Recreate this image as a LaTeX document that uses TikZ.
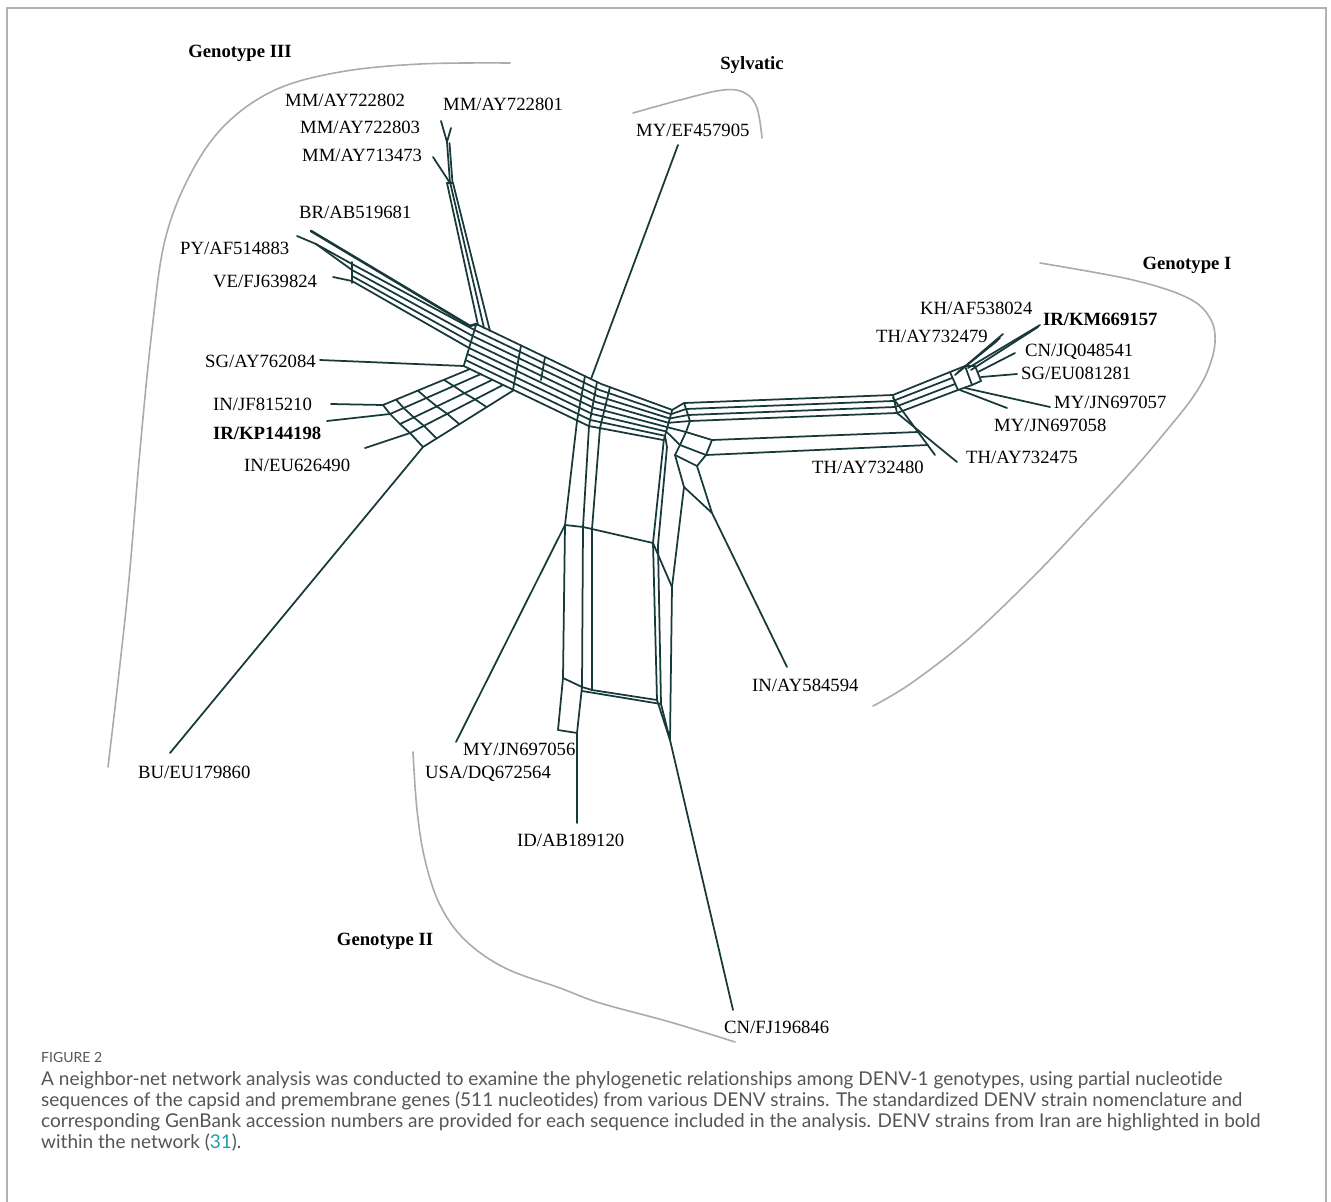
\documentclass[tikz,border=0pt]{standalone}
\usepackage{fontspec}
\setmainfont{Liberation Serif}
\newfontfamily\capfont[Ligatures={NoCommon}]{Lato}
\usetikzlibrary{calc}
\definecolor{netc}{HTML}{17393A}
\definecolor{capgray}{HTML}{555555}
\definecolor{grp}{HTML}{ABABAB}
\definecolor{refc}{HTML}{1A9FB0}
\begin{document}
\begin{tikzpicture}[x=1pt,y=-1pt,
  net/.style={draw=netc, line width=1.75pt, line join=round, line cap=round},
  grpline/.style={draw=grp, line width=1.6pt, line cap=round},
  lab/.style={anchor=west, inner sep=0pt, font=\fontsize{18.7}{20}\selectfont},
  blab/.style={anchor=west, inner sep=0pt, font=\fontsize{18.7}{20}\selectfont\bfseries},
  gt/.style={inner sep=0pt, font=\fontsize{18.7}{20}\selectfont\bfseries},
  captxt/.style={anchor=west, inner sep=0pt, text=capgray, font=\capfont\fontsize{19}{22}\selectfont},
]
\path[use as bounding box] (0,0) rectangle (1331,1202);
% frame
\draw[draw=black!30, line width=1.2pt] (7,1202) -- (7,8) -- (1326,8) -- (1326,1202);

% ---------- group outlines ----------
\draw[grpline] plot[smooth, tension=0.6] coordinates {(510,63) (420,64) (340,72) (275,90) (225,125) (190,175) (165,240) (152,330) (140,450) (127,600) (108,767)};
\draw[grpline] plot[smooth, tension=0.6] coordinates {(633,113) (680,100) (723,90) (745,93) (757,108) (762,138)};
\draw[grpline] plot[smooth, tension=0.6] coordinates {(1040,263) (1133,280) (1188,298) (1210,318) (1215,342) (1208,370) (1193,397) (1167,430) (1133,470) (1087,520) (1033,577) (967,640) (910,684) (873,706)};
\draw[grpline] plot[smooth, tension=0.6] coordinates {(413,752) (417,810) (425,860) (440,905) (465,940) (505,968) (560,988) (600,1003) (670,1022) (735,1042)};

\node[gt] (g3) at (240,53) {Genotype III};
\node[gt] (gs) at (752,65) {Sylvatic};
\node[gt] (g1) at (1187,265) {Genotype I};
\node[gt] (g2) at (385,941) {Genotype II};

% ---------- tips ----------
\coordinate (tMMa) at (441,121);
\coordinate (tMMb) at (451,128);
\coordinate (tMMc) at (433,157);
\coordinate (tBR) at (311,231);
\coordinate (tPY) at (297,236);
\coordinate (tVE) at (333,277);
\coordinate (tSG) at (320,360);
\coordinate (tINJF) at (331,404);
\coordinate (tIRKP) at (327,421);
\coordinate (tINEU) at (365,448);
\coordinate (tBU) at (170,753);
\coordinate (tMYEF) at (678,145);
\coordinate (tKH) at (1003,334);
\coordinate (tTH79) at (997,341);
\coordinate (tIRKM) at (1040,325);
\coordinate (tCN) at (1015,353);
\coordinate (tSGEU) at (1017,374);
\coordinate (tMY57) at (1050,407);
\coordinate (tMY58) at (1007,408);
\coordinate (tTH75) at (957,462);
\coordinate (tTH80) at (935,455);
\coordinate (tINAY) at (787,667);
\coordinate (tMY56) at (456,742);
\coordinate (tID) at (577,823);
\coordinate (tCNFJ) at (733,1010);

% ---------- MM branch ----------
\coordinate (mmJ1) at (447,142);
\coordinate (mmJ2) at (450,183);
\draw[net] (tMMa) -- (mmJ1);
\draw[net] (tMMb) -- (mmJ1);
\draw[net] (mmJ1) -- (mmJ2);
\draw[net] (449.5,143) -- (452.5,183);
\draw[net] (tMMc) -- (mmJ2);
\draw[net] (447,183) -- (478,325);
\draw[net] (450,182) -- (484,328);
\draw[net] (453,183) -- (490,331);
\draw[net] (447,183) -- (453,183);

% ---------- BR / PY / VE ----------
\coordinate (bpJ) at (316,244);
\draw[net, line width=2.6pt] (tBR) -- (470,326) -- (476.3,324);
\draw[net] (tPY) -- (bpJ);
\draw[net] (bpJ) -- (352,264) -- (474.5,330);
\draw[net] (bpJ) -- (352,270) -- (472.7,336);
\draw[net] (352,276) -- (470.9,342);
\draw[net] (352,281) -- (469.1,348);
\draw[net] (352,262) -- (352,283);
\draw[net] (tVE) -- (352,281);

% ---------- central spine ----------
\foreach \k in {-21,-15,-9,-3,3,9,15,21}
  \draw[net] ({470-0.3*\k},{345+\k}) -- ({595-0.3*\k},{405+\k}) -- ({668-0.2*\k},{425+0.72*\k});
\draw[net] (476.3,324) -- (463.7,366);
\draw[net] (521,345.5) -- (513,389.7);
\draw[net] (545,357) -- (541,380);

% Sylvatic
\draw[net] (tMYEF) -- (591,379);

% ---------- lower-left grid (SG / IN / IR / BU) ----------
\coordinate (b1s) at (470,369); \coordinate (b1e) at (383,405);
\coordinate (b2s) at (481,374); \coordinate (b2e) at (390,414);
\coordinate (b3s) at (492,380); \coordinate (b3e) at (400,424);
\coordinate (b4s) at (503,385); \coordinate (b4e) at (410,433);
\coordinate (b5s) at (514,390); \coordinate (b5e) at (423,447);
\foreach \i in {1,...,5} \draw[net] (b\i s) -- (b\i e);
\foreach \t in {0.3,0.6,0.85,1}
  \draw[net] ($(b1s)!\t!(b1e)$) -- ($(b2s)!\t!(b2e)$) -- ($(b3s)!\t!(b3e)$) -- ($(b4s)!\t!(b4e)$) -- ($(b5s)!\t!(b5e)$);
\draw[net] (tSG) -- (463.7,366);
\draw[net] (tINJF) -- (b1e);
\draw[net] (tIRKP) -- (b2e);
\draw[net] (tINEU) -- (b4e);
\draw[net] (tBU) -- (b5e);

% ---------- Genotype II band ----------
\coordinate (g2a) at (565,525);
\coordinate (g2b) at (563,678);
\coordinate (g2c) at (582,687);
\coordinate (g2d) at (558,730);
\coordinate (g2e) at (577,733);
\draw[net] (585,376) -- (577,421) -- (g2a) -- (g2b);
\draw[net] (597,382) -- (589,426) -- (583,527) -- (g2c);
\draw[net] (610,387) -- (600,428) -- (592,529) -- (592,690);
\draw[net] (g2a) -- (583,527) -- (592,529) -- (653,543);
\draw[net] (g2b) -- (g2c) -- (592,690) -- (657,700);
\draw[net] (582,691) -- (661,704);
\draw[net] (g2b) -- (g2d) -- (g2e) -- (g2c);
\draw[net] (g2e) -- (tID);
\draw[net] (tMY56) -- (g2a);

% ---------- hub C ----------
\draw[net] (672.2,409.9) -- (663.8,440.1);
\draw[net] (672.2,409.9) -- (684,403) -- (893,395);
\draw[net] (671,414.2) -- (686,409) -- (893,401);
\draw[net] (669.8,418.5) -- (688,415) -- (895,407);
\draw[net] (668.6,422.8) -- (690,421) -- (897,413);
\draw[net] (667.4,427.2) -- (686,432) -- (712,440) -- (918,432);
\draw[net] (666.2,431.5) -- (680,445) -- (706,455) -- (928,445);
\draw[net] (684,403) -- (690,421) -- (686,432) -- (680,445) -- (675,455);
\draw[net] (712,440) -- (706,455) -- (697,466);
\draw[net] (675,455) -- (697,466);
% Genotype II right side
\draw[net] (663.8,440.1) -- (653,543) -- (657,700) -- (670,740);
\draw[net] (665,435.8) -- (667,447) -- (658,545) -- (661,704) -- (670,740);
\draw[net] (675,455) -- (684,487) -- (672,587) -- (670,740);
\draw[net] (653,543) -- (672,587);
\draw[net] (670,740) -- (tCNFJ);
% IN/AY584594
\draw[net] (697,466) -- (712,513) -- (tINAY);
\draw[net] (684,487) -- (712,513);

% ---------- Genotype I ----------
\draw[net] (893,395) -- (897,413);
\draw[net] (893,398) -- (tTH80);
\draw[net] (897,413) -- (tTH75);
\draw[net] (893,395) -- (950,372) -- (965,366);
\draw[net] (893,401) -- (952,378);
\draw[net] (895,407) -- (955,384);
\draw[net] (897,413) -- (958,390) -- (972,385);
\draw[net] (950,372) -- (958,390);
\draw[net] (965,366) -- (972,385);
\draw[net] (975,366) -- (981,381);
\draw[net] (965,366) -- (975,366);
\draw[net] (972,385) -- (981,381);
\draw[net] (962,369) -- (tKH);
\draw[net] (958,372) -- (tTH79);
\draw[net] (955,375) -- (1000,338);
\draw[net] (968,368) -- (tIRKM);
\draw[net] (971,370) -- (1038,327);
\draw[net] (978,372) -- (tCN);
\draw[net] (981,377) -- (tSGEU);
\draw[net] (965,388) -- (tMY57);
\draw[net] (960,390) -- (tMY58);

% ---------- labels ----------
\node[lab] (lMM02) at (285,100) {MM/AY722802};
\node[lab] (lMM01) at (443,104) {MM/AY722801};
\node[lab] (lMM03) at (300,127) {MM/AY722803};
\node[lab] (lMM73) at (302,155) {MM/AY713473};
\node[lab] (lBR) at (299,212) {BR/AB519681};
\node[lab] (lPY) at (180,248) {PY/AF514883};
\node[lab] (lVE) at (213,281) {VE/FJ639824};
\node[lab] (lSG) at (205,361) {SG/AY762084};
\node[lab] (lINJF) at (213,404) {IN/JF815210};
\node[blab] (lIRKP) at (213,433) {IR/KP144198};
\node[lab] (lINEU) at (244,465) {IN/EU626490};
\node[lab] (lBU) at (138,772) {BU/EU179860};
\node[lab] (lMYEF) at (636,130) {MY/EF457905};
\node[lab] (lKH) at (920,308) {KH/AF538024};
\node[blab] (lIRKM) at (1043,319) {IR/KM669157};
\node[lab] (lTH79) at (876,336) {TH/AY732479};
\node[lab] (lCN) at (1025,352) {CN/JQ048541};
\node[lab] (lSGEU) at (1021,373) {SG/EU081281};
\node[lab] (lMY57) at (1054,402) {MY/JN697057};
\node[lab] (lMY58) at (994,425) {MY/JN697058};
\node[lab] (lTH75) at (966,457) {TH/AY732475};
\node[lab] (lTH80) at (812,467) {TH/AY732480};
\node[lab] (lINAY) at (752,685) {IN/AY584594};
\node[lab] (lMY56) at (463,749) {MY/JN697056};
\node[lab] (lUSA) at (425,774) {USA/DQ672564};
\node[lab] (lID) at (517,840) {ID/AB189120};
\node[lab] (lCNFJ) at (724,1027) {CN/FJ196846};

% ---------- caption ----------
\node[anchor=west, inner sep=0pt, text=capgray, font=\capfont\fontsize{14}{16}\selectfont] (fig) at (41,1057) {FIGURE 2};
\node[captxt] (c1) at (41,1080) {A neighbor-net network analysis was conducted to examine the phylogenetic relationships among DENV-1 genotypes, using partial nucleotide};
\node[captxt] (c2) at (41,1101) {sequences of the capsid and premembrane genes (511 nucleotides) from various DENV strains. The standardized DENV strain nomenclature and};
\node[captxt] (c3) at (41,1122) {corresponding GenBank accession numbers are provided for each sequence included in the analysis. DENV strains from Iran are highlighted in bold};
\node[captxt] (c4) at (41,1143) {within the network (\textcolor{refc}{31}).};
\end{tikzpicture}
\end{document}
